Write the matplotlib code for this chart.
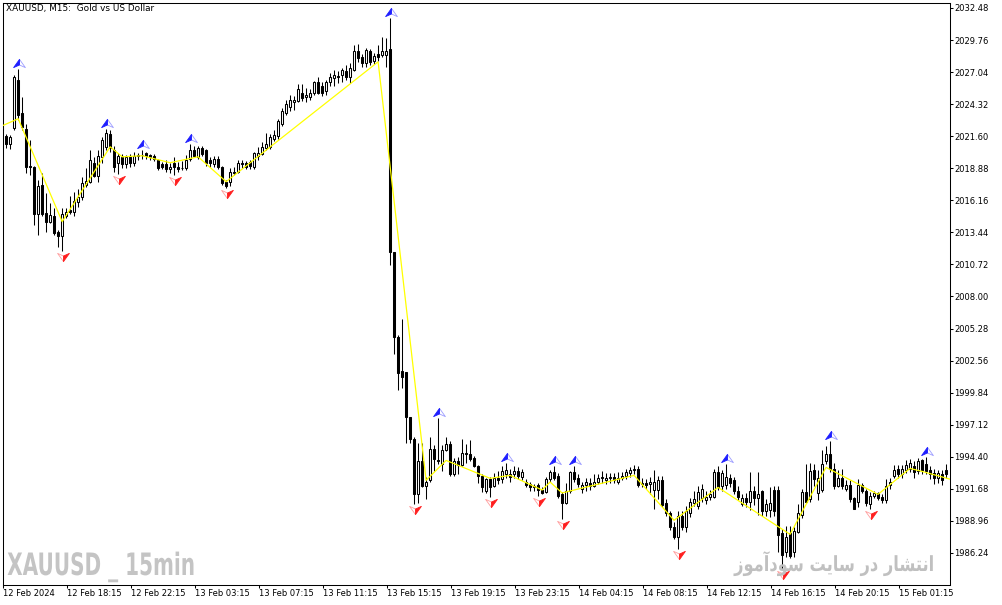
import numpy as np
import matplotlib
matplotlib.use("Agg")
import matplotlib.pyplot as plt
from matplotlib.path import Path
from matplotlib.patheffects import AbstractPathEffect
from matplotlib.transforms import Affine2D, offset_copy

# XAUUSD M15 candles, 12 Feb 14:15 .. 15 Feb ~03:00
opens = [
    2022.0, 2021.6, 2020.9, 2022.3, 2026.4, 2023.6, 2022.2, 2019.1, 2019.0, 2015.0,
    2017.5, 2015.1, 2014.3, 2014.8, 2013.5, 2013.1, 2014.8, 2015.3, 2015.2, 2016.0,
    2016.4, 2017.5, 2017.7, 2019.3, 2018.2, 2019.8, 2020.7, 2021.8, 2020.4, 2019.3,
    2019.8, 2019.2, 2019.8, 2019.3, 2019.9, 2020.0, 2020.2, 2020.0, 2019.9, 2019.6,
    2019.2, 2019.2, 2018.8, 2019.3, 2019.0, 2018.9, 2018.9, 2019.7, 2020.4, 2019.8,
    2020.6, 2020.4, 2019.6, 2019.2, 2019.7, 2019.0, 2017.7, 2017.7, 2018.6, 2018.6,
    2019.3, 2019.3, 2019.4, 2019.0, 2019.9, 2020.1, 2020.6, 2020.7, 2021.4, 2021.6,
    2022.6, 2023.6, 2024.1, 2024.5, 2024.6, 2025.3, 2024.9, 2024.9, 2025.3, 2026.2,
    2025.9, 2025.4, 2026.2, 2026.5, 2026.7, 2026.8, 2027.1, 2026.6, 2027.2, 2028.8,
    2028.3, 2027.8, 2028.8, 2028.0, 2028.6, 2028.5, 2028.5, 2029.0, 2011.8, 2004.6,
    2001.7, 2001.6, 1997.8, 1995.9, 1991.2, 1994.0, 1991.9, 1992.4, 1995.1, 1994.1,
    1993.8, 1995.0, 1995.5, 1992.9, 1994.0, 1993.7, 1994.7, 1994.6, 1994.3, 1993.6,
    1992.8, 1991.5, 1992.5, 1991.9, 1992.6, 1992.5, 1992.9, 1992.9, 1992.9, 1993.2,
    1992.7, 1992.3, 1992.1, 1991.9, 1992.0, 1991.6, 1991.4, 1992.5, 1993.1, 1992.8,
    1991.2, 1990.5, 1991.5, 1993.1, 1992.6, 1991.7, 1992.0, 1992.2, 1991.9, 1992.3,
    1992.6, 1992.4, 1992.6, 1992.7, 1992.3, 1992.6, 1992.8, 1993.0, 1993.3, 1993.4,
    1992.1, 1992.2, 1992.1, 1991.6, 1991.6, 1992.4, 1990.5, 1989.6, 1988.4, 1987.6,
    1989.4, 1988.4, 1989.6, 1990.5, 1990.2, 1990.9, 1990.7, 1991.0, 1991.0, 1993.1,
    1991.9, 1992.0, 1992.6, 1992.4, 1991.5, 1990.4, 1990.9, 1990.6, 1991.5, 1990.9,
    1991.5, 1989.8, 1989.9, 1991.6, 1991.6, 1987.9, 1986.3, 1987.9, 1986.3, 1988.0,
    1989.5, 1991.4, 1990.8, 1993.3, 1991.3, 1991.6, 1994.0, 1994.6, 1993.4, 1991.9,
    1992.6, 1991.7, 1992.0, 1990.9, 1990.6, 1992.0, 1991.5, 1990.4, 1991.1, 1991.3,
    1991.0, 1990.7, 1992.0, 1992.8, 1993.4, 1992.9, 1993.3, 1993.4, 1993.6, 1993.2,
    1994.1, 1993.8, 1993.3, 1993.0, 1992.6, 1992.9, 1993.3]
highs = [
    2022.6, 2021.8, 2021.7, 2026.8, 2027.3, 2024.9, 2022.6, 2021.3, 2019.1, 2017.9,
    2018.5, 2016.8, 2015.9, 2015.5, 2013.6, 2015.5, 2015.5, 2016.5, 2016.9, 2017.1,
    2018.1, 2018.9, 2020.4, 2019.8, 2020.4, 2021.5, 2022.2, 2022.1, 2020.8, 2020.2,
    2020.1, 2020.0, 2020.1, 2020.3, 2020.2, 2020.4, 2020.3, 2020.1, 2020.1, 2019.7,
    2019.4, 2019.6, 2019.3, 2019.8, 2019.4, 2019.5, 2020.0, 2020.9, 2020.8, 2020.8,
    2020.8, 2020.5, 2019.8, 2019.9, 2019.9, 2019.1, 2017.9, 2018.9, 2019.0, 2019.6,
    2019.6, 2019.5, 2019.6, 2020.3, 2020.7, 2021.1, 2021.9, 2021.8, 2022.1, 2023.1,
    2024.0, 2024.7, 2025.1, 2025.0, 2026.0, 2026.0, 2025.7, 2025.6, 2026.3, 2026.6,
    2026.2, 2026.4, 2027.0, 2027.2, 2027.1, 2027.4, 2027.6, 2027.8, 2029.3, 2029.4,
    2028.6, 2029.1, 2029.0, 2028.7, 2029.3, 2030.0, 2029.9, 2031.6, 2011.8, 2004.7,
    2006.1, 2001.6, 1997.8, 1996.1, 1995.6, 1995.6, 1992.7, 1996.1, 1995.4, 1997.7,
    1995.4, 1996.1, 1995.7, 1994.3, 1994.4, 1995.9, 1995.5, 1995.8, 1994.5, 1993.7,
    1992.9, 1992.6, 1992.7, 1993.0, 1993.2, 1993.6, 1993.9, 1993.4, 1993.6, 1993.5,
    1993.4, 1992.5, 1992.3, 1992.1, 1992.2, 1991.8, 1992.7, 1993.3, 1993.6, 1993.0,
    1991.4, 1992.2, 1993.2, 1993.6, 1992.9, 1992.3, 1992.6, 1992.6, 1992.9, 1992.9,
    1993.2, 1993.0, 1993.0, 1993.0, 1993.1, 1993.1, 1993.4, 1993.5, 1993.7, 1993.6,
    1992.6, 1992.5, 1992.7, 1993.3, 1992.8, 1992.8, 1990.8, 1989.8, 1988.9, 1989.8,
    1989.8, 1990.2, 1990.9, 1991.5, 1991.9, 1992.1, 1991.5, 1991.6, 1993.4, 1993.6,
    1993.3, 1993.8, 1992.9, 1992.7, 1991.9, 1991.2, 1991.3, 1993.1, 1991.9, 1993.1,
    1991.6, 1990.8, 1991.8, 1991.9, 1991.9, 1988.3, 1988.5, 1988.5, 1988.4, 1990.4,
    1991.7, 1993.8, 1993.9, 1993.8, 1993.3, 1995.0, 1995.3, 1995.7, 1993.9, 1993.3,
    1993.4, 1992.4, 1992.4, 1991.0, 1992.5, 1992.2, 1991.7, 1991.4, 1991.5, 1991.4,
    1991.2, 1992.5, 1992.6, 1993.7, 1993.7, 1993.7, 1994.1, 1994.2, 1994.0, 1994.3,
    1994.2, 1994.4, 1993.6, 1993.4, 1993.3, 1993.3, 1993.8]
lows = [
    2021.5, 2020.6, 2020.5, 2022.1, 2023.0, 2022.1, 2018.5, 2018.3, 2014.1, 2013.2,
    2014.8, 2013.5, 2014.2, 2013.2, 2012.2, 2011.9, 2014.7, 2015.0, 2014.8, 2015.6,
    2016.2, 2017.3, 2017.6, 2018.1, 2017.7, 2019.3, 2020.4, 2020.3, 2018.6, 2018.4,
    2018.9, 2018.9, 2019.0, 2019.1, 2019.6, 2019.7, 2019.7, 2019.6, 2019.5, 2018.7,
    2018.8, 2018.6, 2018.5, 2018.3, 2018.6, 2018.7, 2018.7, 2019.5, 2019.8, 2019.7,
    2019.9, 2019.1, 2019.0, 2019.0, 2018.8, 2017.5, 2017.2, 2017.4, 2018.3, 2018.5,
    2018.9, 2018.8, 2018.8, 2018.8, 2019.6, 2020.0, 2020.4, 2020.5, 2021.2, 2021.4,
    2022.5, 2023.4, 2023.7, 2023.8, 2024.5, 2024.6, 2024.5, 2024.7, 2025.1, 2025.2,
    2025.0, 2025.1, 2025.9, 2025.9, 2026.1, 2026.2, 2026.4, 2026.1, 2027.1, 2027.9,
    2027.5, 2027.5, 2027.6, 2027.7, 2028.0, 2028.3, 2027.5, 2010.7, 2003.1, 2000.1,
    2000.2, 1995.6, 1995.6, 1990.4, 1990.5, 1991.8, 1990.8, 1992.3, 1993.2, 1993.8,
    1993.2, 1994.9, 1992.8, 1992.8, 1992.9, 1993.6, 1993.9, 1994.0, 1993.5, 1992.2,
    1991.4, 1991.3, 1991.0, 1991.8, 1992.1, 1992.2, 1992.6, 1992.3, 1992.6, 1992.5,
    1992.4, 1991.8, 1991.5, 1991.5, 1991.1, 1991.2, 1991.3, 1992.3, 1992.4, 1990.9,
    1989.1, 1990.4, 1991.3, 1992.3, 1991.8, 1991.3, 1991.5, 1991.6, 1991.8, 1992.1,
    1992.2, 1992.1, 1992.2, 1992.2, 1992.1, 1992.4, 1992.5, 1992.7, 1992.9, 1991.8,
    1991.8, 1991.7, 1991.2, 1990.0, 1990.8, 1990.1, 1989.4, 1988.2, 1987.4, 1986.6,
    1988.2, 1988.0, 1989.3, 1990.2, 1990.0, 1990.6, 1990.4, 1990.7, 1990.9, 1991.6,
    1991.5, 1991.7, 1991.8, 1991.2, 1990.7, 1990.2, 1990.1, 1989.9, 1990.3, 1989.5,
    1989.4, 1989.4, 1989.3, 1989.4, 1986.3, 1984.9, 1985.9, 1985.8, 1985.9, 1987.9,
    1989.2, 1990.5, 1990.6, 1991.9, 1990.7, 1991.4, 1993.8, 1993.1, 1991.7, 1991.8,
    1991.7, 1991.5, 1990.6, 1990.2, 1990.1, 1991.3, 1990.2, 1990.0, 1990.9, 1990.7,
    1990.5, 1990.5, 1991.7, 1992.6, 1992.6, 1992.6, 1993.0, 1993.1, 1992.6, 1992.9,
    1992.9, 1992.9, 1992.5, 1992.1, 1992.2, 1992.0, 1992.6]
closes = [
    2022.3, 2020.9, 2021.5, 2026.6, 2023.4, 2022.4, 2019.0, 2019.0, 2015.0, 2017.4,
    2015.0, 2014.3, 2014.9, 2013.4, 2013.1, 2015.0, 2015.2, 2015.2, 2016.1, 2016.4,
    2017.6, 2017.8, 2019.6, 2018.2, 2019.9, 2021.3, 2021.9, 2020.6, 2019.0, 2019.9,
    2019.2, 2019.8, 2019.3, 2019.9, 2020.0, 2020.0, 2019.9, 2019.8, 2019.7, 2018.9,
    2019.0, 2018.8, 2019.0, 2019.0, 2018.8, 2018.9, 2019.6, 2020.4, 2019.9, 2020.6,
    2020.1, 2019.3, 2019.3, 2019.7, 2019.0, 2017.6, 2017.4, 2018.6, 2018.5, 2019.3,
    2019.2, 2019.0, 2019.1, 2020.2, 2020.2, 2020.7, 2020.9, 2021.5, 2021.7, 2022.9,
    2023.7, 2024.3, 2024.7, 2024.7, 2025.6, 2024.8, 2025.1, 2025.3, 2026.2, 2025.3,
    2025.3, 2026.2, 2026.6, 2026.8, 2026.6, 2027.2, 2026.6, 2027.4, 2028.8, 2028.2,
    2027.8, 2028.9, 2027.9, 2028.4, 2028.3, 2028.8, 2028.8, 2011.8, 2004.6, 2001.5,
    2001.2, 1997.8, 1995.9, 1991.2, 1994.0, 1991.9, 1992.3, 1995.1, 1994.2, 1994.0,
    1995.0, 1995.5, 1992.9, 1994.0, 1993.7, 1994.7, 1994.6, 1994.2, 1993.6, 1992.8,
    1991.8, 1992.5, 1991.8, 1992.6, 1992.4, 1993.2, 1993.3, 1992.7, 1993.2, 1992.8,
    1993.1, 1992.0, 1991.8, 1991.8, 1991.6, 1991.3, 1992.5, 1993.1, 1992.6, 1991.1,
    1990.5, 1991.5, 1993.1, 1992.5, 1992.1, 1992.0, 1992.3, 1991.9, 1992.3, 1992.6,
    1992.7, 1992.6, 1992.7, 1992.4, 1992.6, 1992.8, 1993.1, 1993.3, 1993.4, 1992.0,
    1992.2, 1992.0, 1992.3, 1992.3, 1992.4, 1990.3, 1989.6, 1988.4, 1987.6, 1989.4,
    1988.4, 1989.8, 1990.6, 1990.8, 1991.4, 1991.7, 1991.0, 1991.2, 1993.1, 1991.8,
    1993.0, 1992.7, 1992.2, 1991.5, 1991.0, 1990.9, 1990.6, 1991.5, 1990.9, 1991.2,
    1989.8, 1990.4, 1990.5, 1989.8, 1987.8, 1986.1, 1987.6, 1986.0, 1988.1, 1989.6,
    1991.4, 1990.6, 1993.2, 1992.5, 1992.6, 1993.8, 1994.6, 1993.4, 1991.9, 1992.6,
    1991.9, 1992.0, 1990.8, 1990.0, 1992.0, 1991.5, 1990.5, 1991.1, 1991.3, 1990.9,
    1990.7, 1991.9, 1992.3, 1993.3, 1992.9, 1993.4, 1993.7, 1993.9, 1993.1, 1994.0,
    1993.3, 1993.2, 1992.9, 1992.6, 1993.0, 1992.4, 1992.9]

# zigzag (yellow) vertices: bar index / price
zz_bar = [0, 4, 15, 27, 30, 35, 42, 49, 56, 94, 106, 111, 122, 127, 135, 137,
          140, 158, 168, 179, 197, 206, 219, 227, 230, 237]
zz_price = [2022.48, 2023.08, 2014.35, 2020.70, 2019.85, 2019.94, 2019.35, 2019.85,
            2017.74, 2027.91, 1992.40, 1994.09, 1992.57, 1992.82, 1991.58, 1992.26,
            1991.33, 1992.82, 1989.01, 1991.80, 1987.82, 1993.50, 1991.21, 1993.41,
            1993.16, 1992.50]

# fractal arrows (bar index)
up_bars = [4, 26, 35, 47, 97, 109, 126, 138, 143, 181, 207, 231]
down_bars = [15, 29, 43, 56, 103, 122, 134, 140, 169, 195, 217]

time_labels = ["12 Feb 2024", "12 Feb 18:15", "12 Feb 22:15", "13 Feb 03:15",
               "13 Feb 07:15", "13 Feb 11:15", "13 Feb 15:15", "13 Feb 19:15",
               "13 Feb 23:15", "14 Feb 04:15", "14 Feb 08:15", "14 Feb 12:15",
               "14 Feb 16:15", "14 Feb 20:15", "15 Feb 01:15"]
price_ticks = [2032.48, 2029.76, 2027.04, 2024.32, 2021.60, 2018.88, 2016.16,
               2013.44, 2010.72, 2008.00, 2005.28, 2002.56, 1999.84, 1997.12,
               1994.40, 1991.68, 1988.96, 1986.24]

title = "XAUUSD, M15:  Gold vs US Dollar"
mark_en = "XAUUSD _ 15min"
# "انتشار در سایت سودآموز" written in shaped (presentation) forms, visual order
mark_fa = ("\uFEAF\uFEEE\uFEE3\uFE81\uFEA9\uFEEE\uFEB3 \uFE96\uFEF3\uFE8E\uFEB3 "
           "\uFEAD\uFEA9 \uFEAD\uFE8E\uFEB8\uFE98\uFEE7\uFE8D")


class Squeeze(AbstractPathEffect):
    """narrow the text horizontally (stand-in for a condensed font)"""
    def __init__(self, sx, keep_right=False):
        super().__init__()
        self.sx = sx
        self.keep_right = keep_right

    def draw_path(self, renderer, gc, tpath, affine, rgbFace=None):
        ext = tpath.get_extents(affine)
        x0 = ext.x1 if self.keep_right else ext.x0
        sq = Affine2D().translate(-x0, 0).scale(self.sx, 1).translate(x0, 0)
        renderer.draw_path(gc, tpath, affine + sq, rgbFace)


o = np.array(opens)
h = np.array(highs)
l = np.array(lows)
c = np.array(closes)
x = np.arange(len(o))

fig = plt.figure(figsize=(10.03, 6.05), dpi=100)
ax = fig.add_axes([3 / 1003, 20 / 605, 947 / 1003, 582 / 605])

# candles
ax.vlines(x, l, h, color="black", linewidth=0.75, zorder=2)
bull = c >= o
ax.bar(x, np.abs(c - o), bottom=np.minimum(o, c), width=0.5,
       color=np.where(bull, "white", "black"), edgecolor="black",
       linewidth=0.75, zorder=3)

# zigzag
ax.plot(zz_bar, zz_price, color="#ffff00", linewidth=0.9, zorder=4)

# arrows
up_l = Path([(0, 0.7), (-1, -0.7), (0, -0.25), (0, 0.7)], closed=True)
up_r = Path([(0, 0.7), (1, -0.7), (0, -0.25), (0, 0.7)], closed=True)
dn_l = Path([(0, -0.7), (-1, 0.7), (0, 0.25), (0, -0.7)], closed=True)
dn_r = Path([(0, -0.7), (1, 0.7), (0, 0.25), (0, -0.7)], closed=True)
up_tr = offset_copy(ax.transData, fig=fig, x=0.5, y=6, units="dots")
dn_tr = offset_copy(ax.transData, fig=fig, x=0.5, y=-6, units="dots")
up_y = h[up_bars]
dn_y = l[down_bars]
ax.plot(up_bars, up_y, ls="none", marker=up_r, ms=8.5, mfc="white", mec="#9c9cff",
        mew=0.6, transform=up_tr, zorder=5)
ax.plot(up_bars, up_y, ls="none", marker=up_l, ms=8.5, mfc="#1e1eff", mec="#1e1eff",
        mew=0.6, transform=up_tr, zorder=5)
ax.plot(down_bars, dn_y, ls="none", marker=dn_l, ms=8.5, mfc="white", mec="#ff9c9c",
        mew=0.6, transform=dn_tr, zorder=5)
ax.plot(down_bars, dn_y, ls="none", marker=dn_r, ms=8.5, mfc="#ff1e1e", mec="#ff1e1e",
        mew=0.6, transform=dn_tr, zorder=5)

ax.set_xlim(0.2, 237)
ax.set_ylim(1983.52, 2032.90)

ax.yaxis.tick_right()
ax.set_yticks(price_ticks)
ax.set_yticklabels([f"{p:.2f}" for p in price_ticks], fontsize=6)
ax.set_xticks([0.2 + 16 * j for j in range(len(time_labels))])
ax.set_xticklabels(time_labels, fontsize=6, ha="left")
ax.tick_params(direction="out", length=2.2, width=0.75, pad=0.8, colors="black")
for s in ax.spines.values():
    s.set_linewidth(0.75)

fig.text(6 / 1003, 1 - 9 / 605, title, fontsize=6.4, ha="left", va="center")
fig.text(7 / 1003, 1 - 575 / 605, mark_en, fontsize=22.2, fontweight="bold",
         color="#c4c4c4", ha="left", va="baseline", path_effects=[Squeeze(0.65)])
fig.text(935 / 1003, 1 - 571 / 605, mark_fa, fontsize=15, fontweight="bold",
         color="#c0c0c0", ha="right", va="baseline",
         path_effects=[Squeeze(0.78, keep_right=True)])

fig.savefig("out.png", dpi=100)
